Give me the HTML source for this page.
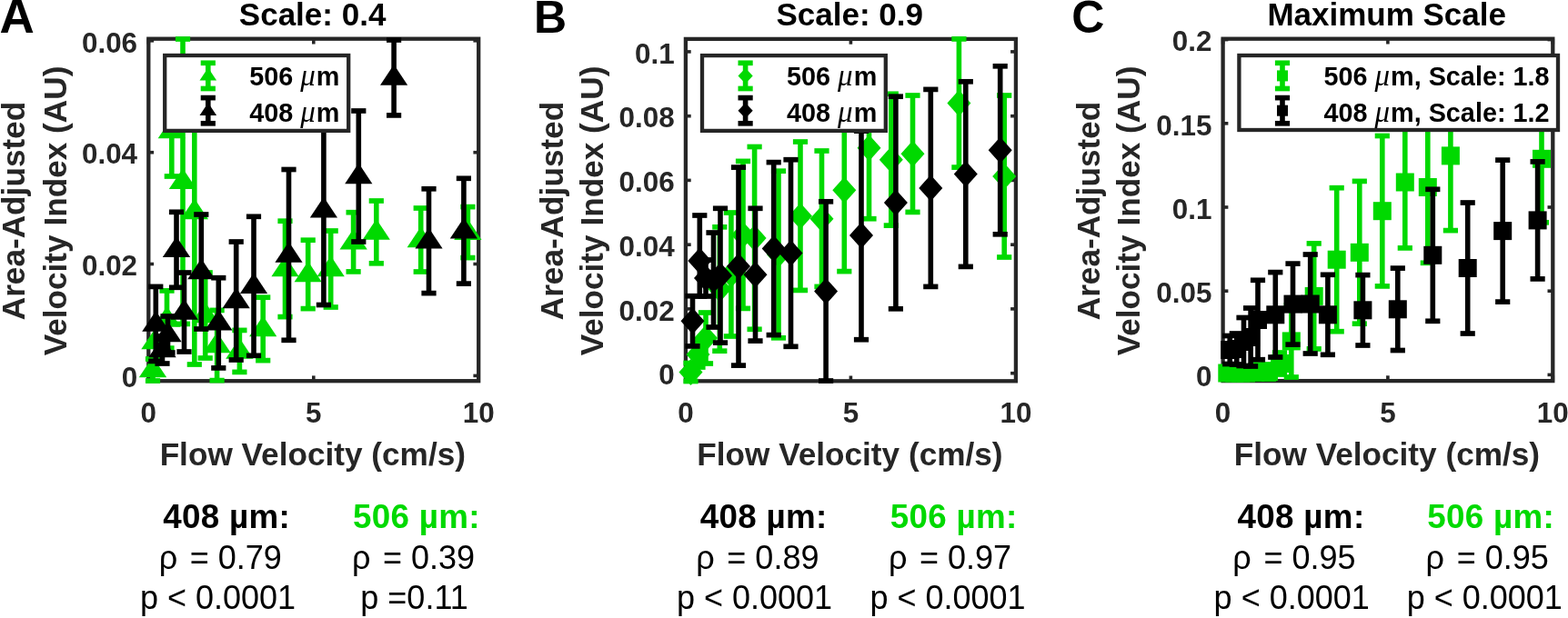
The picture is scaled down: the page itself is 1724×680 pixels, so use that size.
<!DOCTYPE html><html><head><meta charset="utf-8"><title>Figure</title><style>html,body{margin:0;padding:0;background:#fff;overflow:hidden;}svg{display:block;}</style></head><body>
<svg width="1724" height="680" viewBox="0 0 1724 680">
<rect width="1724" height="680" fill="#fff"/>
<rect x="163.3" y="42.7" width="362.9" height="376.5" fill="none" stroke="#262626" stroke-width="4.3" stroke-linejoin="miter"/><line x1="163.3" y1="419.2" x2="163.3" y2="413.4" stroke="#262626" stroke-width="3.6"/><line x1="163.3" y1="42.7" x2="163.3" y2="48.5" stroke="#262626" stroke-width="3.6"/><line x1="344.8" y1="419.2" x2="344.8" y2="413.4" stroke="#262626" stroke-width="3.6"/><line x1="344.8" y1="42.7" x2="344.8" y2="48.5" stroke="#262626" stroke-width="3.6"/><line x1="526.2" y1="419.2" x2="526.2" y2="413.4" stroke="#262626" stroke-width="3.6"/><line x1="526.2" y1="42.7" x2="526.2" y2="48.5" stroke="#262626" stroke-width="3.6"/><line x1="163.3" y1="413.4" x2="169.1" y2="413.4" stroke="#262626" stroke-width="3.6"/><line x1="526.2" y1="413.4" x2="520.4" y2="413.4" stroke="#262626" stroke-width="3.6"/><line x1="163.3" y1="290.5" x2="169.1" y2="290.5" stroke="#262626" stroke-width="3.6"/><line x1="526.2" y1="290.5" x2="520.4" y2="290.5" stroke="#262626" stroke-width="3.6"/><line x1="163.3" y1="167.7" x2="169.1" y2="167.7" stroke="#262626" stroke-width="3.6"/><line x1="526.2" y1="167.7" x2="520.4" y2="167.7" stroke="#262626" stroke-width="3.6"/><line x1="163.3" y1="44.8" x2="169.1" y2="44.8" stroke="#262626" stroke-width="3.6"/><line x1="526.2" y1="44.8" x2="520.4" y2="44.8" stroke="#262626" stroke-width="3.6"/>
<line x1="168.0" y1="395.0" x2="168.0" y2="419.0" stroke="#00d900" stroke-width="5.6"/><line x1="159.9" y1="395.0" x2="176.1" y2="395.0" stroke="#00d900" stroke-width="5.699999999999999"/><line x1="159.9" y1="419.0" x2="176.1" y2="419.0" stroke="#00d900" stroke-width="5.699999999999999"/><line x1="170.5" y1="376.0" x2="170.5" y2="376.0" stroke="#00d900" stroke-width="5.6"/><line x1="162.4" y1="376.0" x2="178.6" y2="376.0" stroke="#00d900" stroke-width="5.699999999999999"/><line x1="162.4" y1="376.0" x2="178.6" y2="376.0" stroke="#00d900" stroke-width="5.699999999999999"/><line x1="183.5" y1="319.9" x2="183.5" y2="383.1" stroke="#00d900" stroke-width="5.6"/><line x1="175.4" y1="319.9" x2="191.6" y2="319.9" stroke="#00d900" stroke-width="5.699999999999999"/><line x1="175.4" y1="383.1" x2="191.6" y2="383.1" stroke="#00d900" stroke-width="5.699999999999999"/><line x1="188.8" y1="94.0" x2="188.8" y2="194.0" stroke="#00d900" stroke-width="5.6"/><line x1="180.7" y1="94.0" x2="196.9" y2="94.0" stroke="#00d900" stroke-width="5.699999999999999"/><line x1="180.7" y1="194.0" x2="196.9" y2="194.0" stroke="#00d900" stroke-width="5.699999999999999"/><line x1="201.0" y1="43.0" x2="201.0" y2="356.4" stroke="#00d900" stroke-width="5.6"/><line x1="192.9" y1="43.0" x2="209.1" y2="43.0" stroke="#00d900" stroke-width="5.699999999999999"/><line x1="192.9" y1="356.4" x2="209.1" y2="356.4" stroke="#00d900" stroke-width="5.699999999999999"/><line x1="213.8" y1="65.0" x2="213.8" y2="401.0" stroke="#00d900" stroke-width="5.6"/><line x1="205.7" y1="65.0" x2="221.9" y2="65.0" stroke="#00d900" stroke-width="5.699999999999999"/><line x1="205.7" y1="401.0" x2="221.9" y2="401.0" stroke="#00d900" stroke-width="5.699999999999999"/><line x1="225.7" y1="300.0" x2="225.7" y2="394.0" stroke="#00d900" stroke-width="5.6"/><line x1="217.6" y1="300.0" x2="233.8" y2="300.0" stroke="#00d900" stroke-width="5.699999999999999"/><line x1="217.6" y1="394.0" x2="233.8" y2="394.0" stroke="#00d900" stroke-width="5.699999999999999"/><line x1="238.6" y1="341.4" x2="238.6" y2="418.6" stroke="#00d900" stroke-width="5.6"/><line x1="230.5" y1="341.4" x2="246.7" y2="341.4" stroke="#00d900" stroke-width="5.699999999999999"/><line x1="230.5" y1="418.6" x2="246.7" y2="418.6" stroke="#00d900" stroke-width="5.699999999999999"/><line x1="263.4" y1="363.4" x2="263.4" y2="409.4" stroke="#00d900" stroke-width="5.6"/><line x1="255.3" y1="363.4" x2="271.5" y2="363.4" stroke="#00d900" stroke-width="5.699999999999999"/><line x1="255.3" y1="409.4" x2="271.5" y2="409.4" stroke="#00d900" stroke-width="5.699999999999999"/><line x1="289.2" y1="327.2" x2="289.2" y2="396.6" stroke="#00d900" stroke-width="5.6"/><line x1="281.1" y1="327.2" x2="297.3" y2="327.2" stroke="#00d900" stroke-width="5.699999999999999"/><line x1="281.1" y1="396.6" x2="297.3" y2="396.6" stroke="#00d900" stroke-width="5.699999999999999"/><line x1="313.5" y1="243.2" x2="313.5" y2="348.6" stroke="#00d900" stroke-width="5.6"/><line x1="305.4" y1="243.2" x2="321.6" y2="243.2" stroke="#00d900" stroke-width="5.699999999999999"/><line x1="305.4" y1="348.6" x2="321.6" y2="348.6" stroke="#00d900" stroke-width="5.699999999999999"/><line x1="338.7" y1="264.2" x2="338.7" y2="339.6" stroke="#00d900" stroke-width="5.6"/><line x1="330.6" y1="264.2" x2="346.8" y2="264.2" stroke="#00d900" stroke-width="5.699999999999999"/><line x1="330.6" y1="339.6" x2="346.8" y2="339.6" stroke="#00d900" stroke-width="5.699999999999999"/><line x1="363.7" y1="254.0" x2="363.7" y2="338.0" stroke="#00d900" stroke-width="5.6"/><line x1="355.6" y1="254.0" x2="371.8" y2="254.0" stroke="#00d900" stroke-width="5.699999999999999"/><line x1="355.6" y1="338.0" x2="371.8" y2="338.0" stroke="#00d900" stroke-width="5.699999999999999"/><line x1="388.6" y1="233.7" x2="388.6" y2="298.9" stroke="#00d900" stroke-width="5.6"/><line x1="380.5" y1="233.7" x2="396.7" y2="233.7" stroke="#00d900" stroke-width="5.699999999999999"/><line x1="380.5" y1="298.9" x2="396.7" y2="298.9" stroke="#00d900" stroke-width="5.699999999999999"/><line x1="413.8" y1="221.0" x2="413.8" y2="289.8" stroke="#00d900" stroke-width="5.6"/><line x1="405.7" y1="221.0" x2="421.9" y2="221.0" stroke="#00d900" stroke-width="5.699999999999999"/><line x1="405.7" y1="289.8" x2="421.9" y2="289.8" stroke="#00d900" stroke-width="5.699999999999999"/><line x1="462.7" y1="229.0" x2="462.7" y2="299.0" stroke="#00d900" stroke-width="5.6"/><line x1="454.6" y1="229.0" x2="470.8" y2="229.0" stroke="#00d900" stroke-width="5.699999999999999"/><line x1="454.6" y1="299.0" x2="470.8" y2="299.0" stroke="#00d900" stroke-width="5.699999999999999"/><line x1="514.4" y1="227.6" x2="514.4" y2="283.6" stroke="#00d900" stroke-width="5.6"/><line x1="506.3" y1="227.6" x2="522.5" y2="227.6" stroke="#00d900" stroke-width="5.699999999999999"/><line x1="506.3" y1="283.6" x2="522.5" y2="283.6" stroke="#00d900" stroke-width="5.699999999999999"/><polygon points="168.0,392.5 183.2,415.3 152.8,415.3" fill="#00d900"/><polygon points="170.5,361.5 185.7,384.3 155.3,384.3" fill="#00d900"/><polygon points="183.5,337.0 198.7,359.8 168.3,359.8" fill="#00d900"/><polygon points="188.8,129.5 204.0,152.3 173.7,152.3" fill="#00d900"/><polygon points="201.0,185.2 216.2,208.0 185.8,208.0" fill="#00d900"/><polygon points="213.8,218.5 229.0,241.3 198.7,241.3" fill="#00d900"/><polygon points="225.7,332.5 240.8,355.3 210.5,355.3" fill="#00d900"/><polygon points="238.6,365.5 253.8,388.3 223.4,388.3" fill="#00d900"/><polygon points="263.4,371.9 278.5,394.7 248.2,394.7" fill="#00d900"/><polygon points="289.2,347.4 304.3,370.2 274.1,370.2" fill="#00d900"/><polygon points="313.5,281.4 328.6,304.2 298.4,304.2" fill="#00d900"/><polygon points="338.7,287.4 353.8,310.2 323.6,310.2" fill="#00d900"/><polygon points="363.7,281.5 378.8,304.3 348.6,304.3" fill="#00d900"/><polygon points="388.6,251.8 403.8,274.6 373.5,274.6" fill="#00d900"/><polygon points="413.8,240.9 428.9,263.7 398.7,263.7" fill="#00d900"/><polygon points="462.7,249.5 477.8,272.3 447.6,272.3" fill="#00d900"/><polygon points="514.4,241.1 529.5,263.9 499.2,263.9" fill="#00d900"/>
<line x1="171.3" y1="315.4" x2="171.3" y2="397.4" stroke="#000000" stroke-width="5.6"/><line x1="163.2" y1="315.4" x2="179.4" y2="315.4" stroke="#000000" stroke-width="5.699999999999999"/><line x1="163.2" y1="397.4" x2="179.4" y2="397.4" stroke="#000000" stroke-width="5.699999999999999"/><line x1="178.5" y1="370.0" x2="178.5" y2="400.0" stroke="#000000" stroke-width="5.6"/><line x1="170.4" y1="370.0" x2="186.6" y2="370.0" stroke="#000000" stroke-width="5.699999999999999"/><line x1="170.4" y1="400.0" x2="186.6" y2="400.0" stroke="#000000" stroke-width="5.699999999999999"/><line x1="184.5" y1="348.0" x2="184.5" y2="388.0" stroke="#000000" stroke-width="5.6"/><line x1="176.4" y1="348.0" x2="192.6" y2="348.0" stroke="#000000" stroke-width="5.699999999999999"/><line x1="176.4" y1="388.0" x2="192.6" y2="388.0" stroke="#000000" stroke-width="5.699999999999999"/><line x1="194.0" y1="233.3" x2="194.0" y2="316.3" stroke="#000000" stroke-width="5.6"/><line x1="185.9" y1="233.3" x2="202.1" y2="233.3" stroke="#000000" stroke-width="5.699999999999999"/><line x1="185.9" y1="316.3" x2="202.1" y2="316.3" stroke="#000000" stroke-width="5.699999999999999"/><line x1="202.5" y1="300.0" x2="202.5" y2="387.0" stroke="#000000" stroke-width="5.6"/><line x1="194.4" y1="300.0" x2="210.6" y2="300.0" stroke="#000000" stroke-width="5.699999999999999"/><line x1="194.4" y1="387.0" x2="210.6" y2="387.0" stroke="#000000" stroke-width="5.699999999999999"/><line x1="221.3" y1="236.0" x2="221.3" y2="362.0" stroke="#000000" stroke-width="5.6"/><line x1="213.2" y1="236.0" x2="229.4" y2="236.0" stroke="#000000" stroke-width="5.699999999999999"/><line x1="213.2" y1="362.0" x2="229.4" y2="362.0" stroke="#000000" stroke-width="5.699999999999999"/><line x1="240.3" y1="305.7" x2="240.3" y2="404.9" stroke="#000000" stroke-width="5.6"/><line x1="232.2" y1="305.7" x2="248.4" y2="305.7" stroke="#000000" stroke-width="5.699999999999999"/><line x1="232.2" y1="404.9" x2="248.4" y2="404.9" stroke="#000000" stroke-width="5.699999999999999"/><line x1="259.7" y1="266.0" x2="259.7" y2="396.0" stroke="#000000" stroke-width="5.6"/><line x1="251.6" y1="266.0" x2="267.8" y2="266.0" stroke="#000000" stroke-width="5.699999999999999"/><line x1="251.6" y1="396.0" x2="267.8" y2="396.0" stroke="#000000" stroke-width="5.699999999999999"/><line x1="279.0" y1="238.3" x2="279.0" y2="391.3" stroke="#000000" stroke-width="5.6"/><line x1="270.9" y1="238.3" x2="287.1" y2="238.3" stroke="#000000" stroke-width="5.699999999999999"/><line x1="270.9" y1="391.3" x2="287.1" y2="391.3" stroke="#000000" stroke-width="5.699999999999999"/><line x1="317.5" y1="186.5" x2="317.5" y2="374.3" stroke="#000000" stroke-width="5.6"/><line x1="309.4" y1="186.5" x2="325.6" y2="186.5" stroke="#000000" stroke-width="5.699999999999999"/><line x1="309.4" y1="374.3" x2="325.6" y2="374.3" stroke="#000000" stroke-width="5.699999999999999"/><line x1="355.9" y1="127.1" x2="355.9" y2="335.5" stroke="#000000" stroke-width="5.6"/><line x1="347.8" y1="127.1" x2="364.0" y2="127.1" stroke="#000000" stroke-width="5.699999999999999"/><line x1="347.8" y1="335.5" x2="364.0" y2="335.5" stroke="#000000" stroke-width="5.699999999999999"/><line x1="394.3" y1="122.0" x2="394.3" y2="266.0" stroke="#000000" stroke-width="5.6"/><line x1="386.2" y1="122.0" x2="402.4" y2="122.0" stroke="#000000" stroke-width="5.699999999999999"/><line x1="386.2" y1="266.0" x2="402.4" y2="266.0" stroke="#000000" stroke-width="5.699999999999999"/><line x1="433.1" y1="44.0" x2="433.1" y2="126.9" stroke="#000000" stroke-width="5.6"/><line x1="425.0" y1="44.0" x2="441.2" y2="44.0" stroke="#000000" stroke-width="5.699999999999999"/><line x1="425.0" y1="126.9" x2="441.2" y2="126.9" stroke="#000000" stroke-width="5.699999999999999"/><line x1="471.5" y1="207.8" x2="471.5" y2="322.6" stroke="#000000" stroke-width="5.6"/><line x1="463.4" y1="207.8" x2="479.6" y2="207.8" stroke="#000000" stroke-width="5.699999999999999"/><line x1="463.4" y1="322.6" x2="479.6" y2="322.6" stroke="#000000" stroke-width="5.699999999999999"/><line x1="509.9" y1="196.3" x2="509.9" y2="312.1" stroke="#000000" stroke-width="5.6"/><line x1="501.8" y1="196.3" x2="518.0" y2="196.3" stroke="#000000" stroke-width="5.699999999999999"/><line x1="501.8" y1="312.1" x2="518.0" y2="312.1" stroke="#000000" stroke-width="5.699999999999999"/><polygon points="171.3,341.9 186.5,364.7 156.2,364.7" fill="#000000"/><polygon points="178.5,370.5 193.7,393.3 163.3,393.3" fill="#000000"/><polygon points="184.5,353.5 199.7,376.3 169.3,376.3" fill="#000000"/><polygon points="194.0,260.3 209.2,283.1 178.8,283.1" fill="#000000"/><polygon points="202.5,329.0 217.7,351.8 187.3,351.8" fill="#000000"/><polygon points="221.3,284.5 236.5,307.3 206.2,307.3" fill="#000000"/><polygon points="240.3,340.8 255.5,363.6 225.2,363.6" fill="#000000"/><polygon points="259.7,316.5 274.8,339.3 244.5,339.3" fill="#000000"/><polygon points="279.0,300.3 294.1,323.1 263.9,323.1" fill="#000000"/><polygon points="317.5,265.9 332.6,288.7 302.4,288.7" fill="#000000"/><polygon points="355.9,216.8 371.0,239.6 340.8,239.6" fill="#000000"/><polygon points="394.3,179.5 409.4,202.3 379.2,202.3" fill="#000000"/><polygon points="433.1,71.0 448.2,93.8 418.0,93.8" fill="#000000"/><polygon points="471.5,250.7 486.6,273.5 456.4,273.5" fill="#000000"/><polygon points="509.9,239.7 525.0,262.5 494.8,262.5" fill="#000000"/>
<g font-family="'Liberation Sans', Arial, Helvetica, sans-serif" font-weight="bold" font-size="31.4" fill="#262626"><text x="163.3" y="465" text-anchor="middle">0</text><text x="344.8" y="465" text-anchor="middle">5</text><text x="526.2" y="465" text-anchor="middle">10</text><text x="151.1" y="426.1" text-anchor="end">0</text><text x="151.1" y="303.2" text-anchor="end">0.02</text><text x="151.1" y="180.4" text-anchor="end">0.04</text><text x="151.1" y="57.5" text-anchor="end">0.06</text></g>
<text x="343.8" y="512.2" text-anchor="middle" font-family="'Liberation Sans', Arial, Helvetica, sans-serif" font-weight="bold" font-size="35.2" fill="#262626">Flow Velocity (cm/s)</text>
<g font-family="'Liberation Sans', Arial, Helvetica, sans-serif" font-weight="bold" font-size="35.2" fill="#262626" text-anchor="middle"><text transform="translate(27.1,232.0) rotate(-90)">Area-Adjusted</text><text transform="translate(72.7,232.0) rotate(-90)">Velocity Index (AU)</text></g>
<text x="343.6" y="28.4" text-anchor="middle" font-family="'Liberation Sans', Arial, Helvetica, sans-serif" font-weight="bold" font-size="35" fill="#000">Scale: 0.4</text>
<text x="-0.4" y="35.7" font-family="'Liberation Sans', Arial, Helvetica, sans-serif" font-weight="bold" font-size="53" fill="#000">A</text>
<rect x="181.2" y="61.0" width="202.0" height="82.9" fill="#fff" stroke="#262626" stroke-width="4.3"/><line x1="228.8" y1="69.3" x2="228.8" y2="97.5" stroke="#00d900" stroke-width="5.6"/><line x1="220.7" y1="69.3" x2="236.9" y2="69.3" stroke="#00d900" stroke-width="5.699999999999999"/><line x1="220.7" y1="97.5" x2="236.9" y2="97.5" stroke="#00d900" stroke-width="5.699999999999999"/><polygon points="228.8,74.6 238.1,88.6 219.5,88.6" fill="#00d900"/><text x="274.2" y="94.4" font-family="'Liberation Sans', Arial, Helvetica, sans-serif" font-weight="bold" font-size="28.8" fill="#000">506 <tspan font-family="'Liberation Serif', 'Times New Roman', serif" font-style="italic" font-weight="normal" font-size="33">μ</tspan><tspan dx="1">m</tspan></text><line x1="228.8" y1="107.6" x2="228.8" y2="135.8" stroke="#000000" stroke-width="5.6"/><line x1="220.7" y1="107.6" x2="236.9" y2="107.6" stroke="#000000" stroke-width="5.699999999999999"/><line x1="220.7" y1="135.8" x2="236.9" y2="135.8" stroke="#000000" stroke-width="5.699999999999999"/><polygon points="228.8,112.9 238.1,126.9 219.5,126.9" fill="#000000"/><text x="274.2" y="134.1" font-family="'Liberation Sans', Arial, Helvetica, sans-serif" font-weight="bold" font-size="28.8" fill="#000">408 <tspan font-family="'Liberation Serif', 'Times New Roman', serif" font-style="italic" font-weight="normal" font-size="33">μ</tspan><tspan dx="1">m</tspan></text>
<rect x="753.9" y="42.9" width="363.0" height="376.4" fill="none" stroke="#262626" stroke-width="4.3" stroke-linejoin="miter"/><line x1="753.9" y1="419.3" x2="753.9" y2="413.5" stroke="#262626" stroke-width="3.6"/><line x1="753.9" y1="42.9" x2="753.9" y2="48.7" stroke="#262626" stroke-width="3.6"/><line x1="935.4" y1="419.3" x2="935.4" y2="413.5" stroke="#262626" stroke-width="3.6"/><line x1="935.4" y1="42.9" x2="935.4" y2="48.7" stroke="#262626" stroke-width="3.6"/><line x1="1116.9" y1="419.3" x2="1116.9" y2="413.5" stroke="#262626" stroke-width="3.6"/><line x1="1116.9" y1="42.9" x2="1116.9" y2="48.7" stroke="#262626" stroke-width="3.6"/><line x1="753.9" y1="410.7" x2="759.7" y2="410.7" stroke="#262626" stroke-width="3.6"/><line x1="1116.9" y1="410.7" x2="1111.1" y2="410.7" stroke="#262626" stroke-width="3.6"/><line x1="753.9" y1="339.9" x2="759.7" y2="339.9" stroke="#262626" stroke-width="3.6"/><line x1="1116.9" y1="339.9" x2="1111.1" y2="339.9" stroke="#262626" stroke-width="3.6"/><line x1="753.9" y1="269.2" x2="759.7" y2="269.2" stroke="#262626" stroke-width="3.6"/><line x1="1116.9" y1="269.2" x2="1111.1" y2="269.2" stroke="#262626" stroke-width="3.6"/><line x1="753.9" y1="198.4" x2="759.7" y2="198.4" stroke="#262626" stroke-width="3.6"/><line x1="1116.9" y1="198.4" x2="1111.1" y2="198.4" stroke="#262626" stroke-width="3.6"/><line x1="753.9" y1="127.7" x2="759.7" y2="127.7" stroke="#262626" stroke-width="3.6"/><line x1="1116.9" y1="127.7" x2="1111.1" y2="127.7" stroke="#262626" stroke-width="3.6"/><line x1="753.9" y1="56.9" x2="759.7" y2="56.9" stroke="#262626" stroke-width="3.6"/><line x1="1116.9" y1="56.9" x2="1111.1" y2="56.9" stroke="#262626" stroke-width="3.6"/>
<line x1="759.5" y1="399.5" x2="759.5" y2="419.5" stroke="#00d900" stroke-width="5.6"/><line x1="751.4" y1="399.5" x2="767.6" y2="399.5" stroke="#00d900" stroke-width="5.699999999999999"/><line x1="751.4" y1="419.5" x2="767.6" y2="419.5" stroke="#00d900" stroke-width="5.699999999999999"/><line x1="767.5" y1="376.0" x2="767.5" y2="404.0" stroke="#00d900" stroke-width="5.6"/><line x1="759.4" y1="376.0" x2="775.6" y2="376.0" stroke="#00d900" stroke-width="5.699999999999999"/><line x1="759.4" y1="404.0" x2="775.6" y2="404.0" stroke="#00d900" stroke-width="5.699999999999999"/><line x1="776.0" y1="344.0" x2="776.0" y2="400.0" stroke="#00d900" stroke-width="5.6"/><line x1="767.9" y1="344.0" x2="784.1" y2="344.0" stroke="#00d900" stroke-width="5.699999999999999"/><line x1="767.9" y1="400.0" x2="784.1" y2="400.0" stroke="#00d900" stroke-width="5.699999999999999"/><line x1="791.3" y1="249.8" x2="791.3" y2="386.2" stroke="#00d900" stroke-width="5.6"/><line x1="783.2" y1="249.8" x2="799.4" y2="249.8" stroke="#00d900" stroke-width="5.699999999999999"/><line x1="783.2" y1="386.2" x2="799.4" y2="386.2" stroke="#00d900" stroke-width="5.699999999999999"/><line x1="803.9" y1="234.0" x2="803.9" y2="370.0" stroke="#00d900" stroke-width="5.6"/><line x1="795.8" y1="234.0" x2="812.0" y2="234.0" stroke="#00d900" stroke-width="5.699999999999999"/><line x1="795.8" y1="370.0" x2="812.0" y2="370.0" stroke="#00d900" stroke-width="5.699999999999999"/><line x1="817.0" y1="177.4" x2="817.0" y2="339.4" stroke="#00d900" stroke-width="5.6"/><line x1="808.9" y1="177.4" x2="825.1" y2="177.4" stroke="#00d900" stroke-width="5.699999999999999"/><line x1="808.9" y1="339.4" x2="825.1" y2="339.4" stroke="#00d900" stroke-width="5.699999999999999"/><line x1="829.6" y1="161.5" x2="829.6" y2="362.3" stroke="#00d900" stroke-width="5.6"/><line x1="821.5" y1="161.5" x2="837.7" y2="161.5" stroke="#00d900" stroke-width="5.699999999999999"/><line x1="821.5" y1="362.3" x2="837.7" y2="362.3" stroke="#00d900" stroke-width="5.699999999999999"/><line x1="856.0" y1="188.2" x2="856.0" y2="371.8" stroke="#00d900" stroke-width="5.6"/><line x1="847.9" y1="188.2" x2="864.1" y2="188.2" stroke="#00d900" stroke-width="5.699999999999999"/><line x1="847.9" y1="371.8" x2="864.1" y2="371.8" stroke="#00d900" stroke-width="5.699999999999999"/><line x1="880.0" y1="156.0" x2="880.0" y2="319.4" stroke="#00d900" stroke-width="5.6"/><line x1="871.9" y1="156.0" x2="888.1" y2="156.0" stroke="#00d900" stroke-width="5.699999999999999"/><line x1="871.9" y1="319.4" x2="888.1" y2="319.4" stroke="#00d900" stroke-width="5.699999999999999"/><line x1="903.5" y1="166.0" x2="903.5" y2="315.4" stroke="#00d900" stroke-width="5.6"/><line x1="895.4" y1="166.0" x2="911.6" y2="166.0" stroke="#00d900" stroke-width="5.699999999999999"/><line x1="895.4" y1="315.4" x2="911.6" y2="315.4" stroke="#00d900" stroke-width="5.699999999999999"/><line x1="928.3" y1="119.8" x2="928.3" y2="298.6" stroke="#00d900" stroke-width="5.6"/><line x1="920.2" y1="119.8" x2="936.4" y2="119.8" stroke="#00d900" stroke-width="5.699999999999999"/><line x1="920.2" y1="298.6" x2="936.4" y2="298.6" stroke="#00d900" stroke-width="5.699999999999999"/><line x1="955.5" y1="84.7" x2="955.5" y2="240.7" stroke="#00d900" stroke-width="5.6"/><line x1="947.4" y1="84.7" x2="963.6" y2="84.7" stroke="#00d900" stroke-width="5.699999999999999"/><line x1="947.4" y1="240.7" x2="963.6" y2="240.7" stroke="#00d900" stroke-width="5.699999999999999"/><line x1="979.8" y1="103.3" x2="979.8" y2="248.1" stroke="#00d900" stroke-width="5.6"/><line x1="971.7" y1="103.3" x2="987.9" y2="103.3" stroke="#00d900" stroke-width="5.699999999999999"/><line x1="971.7" y1="248.1" x2="987.9" y2="248.1" stroke="#00d900" stroke-width="5.699999999999999"/><line x1="1003.5" y1="105.0" x2="1003.5" y2="233.4" stroke="#00d900" stroke-width="5.6"/><line x1="995.4" y1="105.0" x2="1011.6" y2="105.0" stroke="#00d900" stroke-width="5.699999999999999"/><line x1="995.4" y1="233.4" x2="1011.6" y2="233.4" stroke="#00d900" stroke-width="5.699999999999999"/><line x1="1054.4" y1="42.9" x2="1054.4" y2="184.1" stroke="#00d900" stroke-width="5.6"/><line x1="1046.3" y1="42.9" x2="1062.5" y2="42.9" stroke="#00d900" stroke-width="5.699999999999999"/><line x1="1046.3" y1="184.1" x2="1062.5" y2="184.1" stroke="#00d900" stroke-width="5.699999999999999"/><line x1="1104.2" y1="105.0" x2="1104.2" y2="283.0" stroke="#00d900" stroke-width="5.6"/><line x1="1096.1" y1="105.0" x2="1112.3" y2="105.0" stroke="#00d900" stroke-width="5.699999999999999"/><line x1="1096.1" y1="283.0" x2="1112.3" y2="283.0" stroke="#00d900" stroke-width="5.699999999999999"/><polygon points="759.5,395.0 772.5,409.5 759.5,424.0 746.5,409.5" fill="#00d900"/><polygon points="767.5,375.5 780.5,390.0 767.5,404.5 754.5,390.0" fill="#00d900"/><polygon points="776.0,357.5 789.0,372.0 776.0,386.5 763.0,372.0" fill="#00d900"/><polygon points="791.3,303.5 804.3,318.0 791.3,332.5 778.3,318.0" fill="#00d900"/><polygon points="803.9,287.5 816.9,302.0 803.9,316.5 790.9,302.0" fill="#00d900"/><polygon points="817.0,243.9 830.0,258.4 817.0,272.9 804.0,258.4" fill="#00d900"/><polygon points="829.6,247.4 842.6,261.9 829.6,276.4 816.6,261.9" fill="#00d900"/><polygon points="856.0,265.5 869.0,280.0 856.0,294.5 843.0,280.0" fill="#00d900"/><polygon points="880.0,223.2 893.0,237.7 880.0,252.2 867.0,237.7" fill="#00d900"/><polygon points="903.5,226.2 916.5,240.7 903.5,255.2 890.5,240.7" fill="#00d900"/><polygon points="928.3,194.7 941.3,209.2 928.3,223.7 915.3,209.2" fill="#00d900"/><polygon points="955.5,148.2 968.5,162.7 955.5,177.2 942.5,162.7" fill="#00d900"/><polygon points="979.8,161.2 992.8,175.7 979.8,190.2 966.8,175.7" fill="#00d900"/><polygon points="1003.5,154.7 1016.5,169.2 1003.5,183.7 990.5,169.2" fill="#00d900"/><polygon points="1054.4,99.0 1067.4,113.5 1054.4,128.0 1041.4,113.5" fill="#00d900"/><polygon points="1104.2,179.5 1117.2,194.0 1104.2,208.5 1091.2,194.0" fill="#00d900"/>
<line x1="761.5" y1="325.7" x2="761.5" y2="380.9" stroke="#000000" stroke-width="5.6"/><line x1="753.4" y1="325.7" x2="769.6" y2="325.7" stroke="#000000" stroke-width="5.699999999999999"/><line x1="753.4" y1="380.9" x2="769.6" y2="380.9" stroke="#000000" stroke-width="5.699999999999999"/><line x1="769.3" y1="237.0" x2="769.3" y2="326.0" stroke="#000000" stroke-width="5.6"/><line x1="761.2" y1="237.0" x2="777.4" y2="237.0" stroke="#000000" stroke-width="5.699999999999999"/><line x1="761.2" y1="326.0" x2="777.4" y2="326.0" stroke="#000000" stroke-width="5.699999999999999"/><line x1="776.0" y1="286.0" x2="776.0" y2="326.0" stroke="#000000" stroke-width="5.6"/><line x1="767.9" y1="286.0" x2="784.1" y2="286.0" stroke="#000000" stroke-width="5.699999999999999"/><line x1="767.9" y1="326.0" x2="784.1" y2="326.0" stroke="#000000" stroke-width="5.699999999999999"/><line x1="784.5" y1="256.0" x2="784.5" y2="360.0" stroke="#000000" stroke-width="5.6"/><line x1="776.4" y1="256.0" x2="792.6" y2="256.0" stroke="#000000" stroke-width="5.699999999999999"/><line x1="776.4" y1="360.0" x2="792.6" y2="360.0" stroke="#000000" stroke-width="5.699999999999999"/><line x1="792.0" y1="229.3" x2="792.0" y2="377.1" stroke="#000000" stroke-width="5.6"/><line x1="783.9" y1="229.3" x2="800.1" y2="229.3" stroke="#000000" stroke-width="5.699999999999999"/><line x1="783.9" y1="377.1" x2="800.1" y2="377.1" stroke="#000000" stroke-width="5.699999999999999"/><line x1="812.0" y1="184.1" x2="812.0" y2="402.1" stroke="#000000" stroke-width="5.6"/><line x1="803.9" y1="184.1" x2="820.1" y2="184.1" stroke="#000000" stroke-width="5.699999999999999"/><line x1="803.9" y1="402.1" x2="820.1" y2="402.1" stroke="#000000" stroke-width="5.699999999999999"/><line x1="830.5" y1="229.3" x2="830.5" y2="375.1" stroke="#000000" stroke-width="5.6"/><line x1="822.4" y1="229.3" x2="838.6" y2="229.3" stroke="#000000" stroke-width="5.699999999999999"/><line x1="822.4" y1="375.1" x2="838.6" y2="375.1" stroke="#000000" stroke-width="5.699999999999999"/><line x1="850.7" y1="178.6" x2="850.7" y2="368.6" stroke="#000000" stroke-width="5.6"/><line x1="842.6" y1="178.6" x2="858.8" y2="178.6" stroke="#000000" stroke-width="5.699999999999999"/><line x1="842.6" y1="368.6" x2="858.8" y2="368.6" stroke="#000000" stroke-width="5.699999999999999"/><line x1="869.5" y1="175.7" x2="869.5" y2="381.3" stroke="#000000" stroke-width="5.6"/><line x1="861.4" y1="175.7" x2="877.6" y2="175.7" stroke="#000000" stroke-width="5.699999999999999"/><line x1="861.4" y1="381.3" x2="877.6" y2="381.3" stroke="#000000" stroke-width="5.699999999999999"/><line x1="908.1" y1="221.8" x2="908.1" y2="419.0" stroke="#000000" stroke-width="5.6"/><line x1="900.0" y1="221.8" x2="916.2" y2="221.8" stroke="#000000" stroke-width="5.699999999999999"/><line x1="900.0" y1="419.0" x2="916.2" y2="419.0" stroke="#000000" stroke-width="5.699999999999999"/><line x1="947.0" y1="144.1" x2="947.0" y2="373.7" stroke="#000000" stroke-width="5.6"/><line x1="938.9" y1="144.1" x2="955.1" y2="144.1" stroke="#000000" stroke-width="5.699999999999999"/><line x1="938.9" y1="373.7" x2="955.1" y2="373.7" stroke="#000000" stroke-width="5.699999999999999"/><line x1="984.9" y1="106.2" x2="984.9" y2="339.8" stroke="#000000" stroke-width="5.6"/><line x1="976.8" y1="106.2" x2="993.0" y2="106.2" stroke="#000000" stroke-width="5.699999999999999"/><line x1="976.8" y1="339.8" x2="993.0" y2="339.8" stroke="#000000" stroke-width="5.699999999999999"/><line x1="1023.3" y1="98.4" x2="1023.3" y2="315.4" stroke="#000000" stroke-width="5.6"/><line x1="1015.2" y1="98.4" x2="1031.4" y2="98.4" stroke="#000000" stroke-width="5.699999999999999"/><line x1="1015.2" y1="315.4" x2="1031.4" y2="315.4" stroke="#000000" stroke-width="5.699999999999999"/><line x1="1061.8" y1="89.8" x2="1061.8" y2="293.4" stroke="#000000" stroke-width="5.6"/><line x1="1053.7" y1="89.8" x2="1069.9" y2="89.8" stroke="#000000" stroke-width="5.699999999999999"/><line x1="1053.7" y1="293.4" x2="1069.9" y2="293.4" stroke="#000000" stroke-width="5.699999999999999"/><line x1="1099.7" y1="72.8" x2="1099.7" y2="257.8" stroke="#000000" stroke-width="5.6"/><line x1="1091.6" y1="72.8" x2="1107.8" y2="72.8" stroke="#000000" stroke-width="5.699999999999999"/><line x1="1091.6" y1="257.8" x2="1107.8" y2="257.8" stroke="#000000" stroke-width="5.699999999999999"/><polygon points="761.5,338.8 774.5,353.3 761.5,367.8 748.5,353.3" fill="#000000"/><polygon points="769.3,272.5 782.3,287.0 769.3,301.5 756.3,287.0" fill="#000000"/><polygon points="776.0,291.5 789.0,306.0 776.0,320.5 763.0,306.0" fill="#000000"/><polygon points="784.5,293.5 797.5,308.0 784.5,322.5 771.5,308.0" fill="#000000"/><polygon points="792.0,288.7 805.0,303.2 792.0,317.7 779.0,303.2" fill="#000000"/><polygon points="812.0,278.6 825.0,293.1 812.0,307.6 799.0,293.1" fill="#000000"/><polygon points="830.5,287.7 843.5,302.2 830.5,316.7 817.5,302.2" fill="#000000"/><polygon points="850.7,259.1 863.7,273.6 850.7,288.1 837.7,273.6" fill="#000000"/><polygon points="869.5,264.0 882.5,278.5 869.5,293.0 856.5,278.5" fill="#000000"/><polygon points="908.1,305.9 921.1,320.4 908.1,334.9 895.1,320.4" fill="#000000"/><polygon points="947.0,244.4 960.0,258.9 947.0,273.4 934.0,258.9" fill="#000000"/><polygon points="984.9,208.5 997.9,223.0 984.9,237.5 971.9,223.0" fill="#000000"/><polygon points="1023.3,192.4 1036.3,206.9 1023.3,221.4 1010.3,206.9" fill="#000000"/><polygon points="1061.8,177.1 1074.8,191.6 1061.8,206.1 1048.8,191.6" fill="#000000"/><polygon points="1099.7,150.8 1112.7,165.3 1099.7,179.8 1086.7,165.3" fill="#000000"/>
<g font-family="'Liberation Sans', Arial, Helvetica, sans-serif" font-weight="bold" font-size="31.4" fill="#262626"><text x="753.9" y="465" text-anchor="middle">0</text><text x="935.4" y="465" text-anchor="middle">5</text><text x="1116.9" y="465" text-anchor="middle">10</text><text x="741.7" y="423.4" text-anchor="end">0</text><text x="741.7" y="352.6" text-anchor="end">0.02</text><text x="741.7" y="281.9" text-anchor="end">0.04</text><text x="741.7" y="211.1" text-anchor="end">0.06</text><text x="741.7" y="140.4" text-anchor="end">0.08</text><text x="741.7" y="69.6" text-anchor="end">0.1</text></g>
<text x="934.4" y="512.2" text-anchor="middle" font-family="'Liberation Sans', Arial, Helvetica, sans-serif" font-weight="bold" font-size="35.2" fill="#262626">Flow Velocity (cm/s)</text>
<g font-family="'Liberation Sans', Arial, Helvetica, sans-serif" font-weight="bold" font-size="35.2" fill="#262626" text-anchor="middle"><text transform="translate(618.7,232.0) rotate(-90)">Area-Adjusted</text><text transform="translate(663.1,232.0) rotate(-90)">Velocity Index (AU)</text></g>
<text x="934.2" y="28.4" text-anchor="middle" font-family="'Liberation Sans', Arial, Helvetica, sans-serif" font-weight="bold" font-size="35" fill="#000">Scale: 0.9</text>
<text x="587" y="35.7" font-family="'Liberation Sans', Arial, Helvetica, sans-serif" font-weight="bold" font-size="50" fill="#000">B</text>
<rect x="772.0" y="61.1" width="201.8" height="82.8" fill="#fff" stroke="#262626" stroke-width="4.3"/><line x1="819.6" y1="69.3" x2="819.6" y2="97.5" stroke="#00d900" stroke-width="5.6"/><line x1="811.5" y1="69.3" x2="827.7" y2="69.3" stroke="#00d900" stroke-width="5.699999999999999"/><line x1="811.5" y1="97.5" x2="827.7" y2="97.5" stroke="#00d900" stroke-width="5.699999999999999"/><polygon points="819.6,74.9 827.7,83.4 819.6,91.9 811.5,83.4" fill="#00d900"/><text x="865.0" y="94.4" font-family="'Liberation Sans', Arial, Helvetica, sans-serif" font-weight="bold" font-size="28.8" fill="#000">506 <tspan font-family="'Liberation Serif', 'Times New Roman', serif" font-style="italic" font-weight="normal" font-size="33">μ</tspan><tspan dx="1">m</tspan></text><line x1="819.6" y1="107.6" x2="819.6" y2="135.8" stroke="#000000" stroke-width="5.6"/><line x1="811.5" y1="107.6" x2="827.7" y2="107.6" stroke="#000000" stroke-width="5.699999999999999"/><line x1="811.5" y1="135.8" x2="827.7" y2="135.8" stroke="#000000" stroke-width="5.699999999999999"/><polygon points="819.6,113.2 827.7,121.7 819.6,130.2 811.5,121.7" fill="#000000"/><text x="865.0" y="134.1" font-family="'Liberation Sans', Arial, Helvetica, sans-serif" font-weight="bold" font-size="28.8" fill="#000">408 <tspan font-family="'Liberation Serif', 'Times New Roman', serif" font-style="italic" font-weight="normal" font-size="33">μ</tspan><tspan dx="1">m</tspan></text>
<rect x="1344.6" y="42.7" width="362.7" height="376.4" fill="none" stroke="#262626" stroke-width="4.3" stroke-linejoin="miter"/><line x1="1344.6" y1="419.1" x2="1344.6" y2="413.3" stroke="#262626" stroke-width="3.6"/><line x1="1344.6" y1="42.7" x2="1344.6" y2="48.5" stroke="#262626" stroke-width="3.6"/><line x1="1525.9" y1="419.1" x2="1525.9" y2="413.3" stroke="#262626" stroke-width="3.6"/><line x1="1525.9" y1="42.7" x2="1525.9" y2="48.5" stroke="#262626" stroke-width="3.6"/><line x1="1707.3" y1="419.1" x2="1707.3" y2="413.3" stroke="#262626" stroke-width="3.6"/><line x1="1707.3" y1="42.7" x2="1707.3" y2="48.5" stroke="#262626" stroke-width="3.6"/><line x1="1344.6" y1="412.4" x2="1350.4" y2="412.4" stroke="#262626" stroke-width="3.6"/><line x1="1707.3" y1="412.4" x2="1701.5" y2="412.4" stroke="#262626" stroke-width="3.6"/><line x1="1344.6" y1="320.2" x2="1350.4" y2="320.2" stroke="#262626" stroke-width="3.6"/><line x1="1707.3" y1="320.2" x2="1701.5" y2="320.2" stroke="#262626" stroke-width="3.6"/><line x1="1344.6" y1="228.0" x2="1350.4" y2="228.0" stroke="#262626" stroke-width="3.6"/><line x1="1707.3" y1="228.0" x2="1701.5" y2="228.0" stroke="#262626" stroke-width="3.6"/><line x1="1344.6" y1="135.8" x2="1350.4" y2="135.8" stroke="#262626" stroke-width="3.6"/><line x1="1707.3" y1="135.8" x2="1701.5" y2="135.8" stroke="#262626" stroke-width="3.6"/><line x1="1344.6" y1="43.6" x2="1350.4" y2="43.6" stroke="#262626" stroke-width="3.6"/><line x1="1707.3" y1="43.6" x2="1701.5" y2="43.6" stroke="#262626" stroke-width="3.6"/>
<line x1="1349.3" y1="404.5" x2="1349.3" y2="416.5" stroke="#00d900" stroke-width="5.6"/><line x1="1341.2" y1="404.5" x2="1357.4" y2="404.5" stroke="#00d900" stroke-width="5.699999999999999"/><line x1="1341.2" y1="416.5" x2="1357.4" y2="416.5" stroke="#00d900" stroke-width="5.699999999999999"/><line x1="1357.3" y1="404.5" x2="1357.3" y2="416.5" stroke="#00d900" stroke-width="5.6"/><line x1="1349.2" y1="404.5" x2="1365.4" y2="404.5" stroke="#00d900" stroke-width="5.699999999999999"/><line x1="1349.2" y1="416.5" x2="1365.4" y2="416.5" stroke="#00d900" stroke-width="5.699999999999999"/><line x1="1364.2" y1="404.5" x2="1364.2" y2="416.5" stroke="#00d900" stroke-width="5.6"/><line x1="1356.1" y1="404.5" x2="1372.3" y2="404.5" stroke="#00d900" stroke-width="5.699999999999999"/><line x1="1356.1" y1="416.5" x2="1372.3" y2="416.5" stroke="#00d900" stroke-width="5.699999999999999"/><line x1="1370.0" y1="404.5" x2="1370.0" y2="416.5" stroke="#00d900" stroke-width="5.6"/><line x1="1361.9" y1="404.5" x2="1378.1" y2="404.5" stroke="#00d900" stroke-width="5.699999999999999"/><line x1="1361.9" y1="416.5" x2="1378.1" y2="416.5" stroke="#00d900" stroke-width="5.699999999999999"/><line x1="1382.3" y1="401.0" x2="1382.3" y2="417.0" stroke="#00d900" stroke-width="5.6"/><line x1="1374.2" y1="401.0" x2="1390.4" y2="401.0" stroke="#00d900" stroke-width="5.699999999999999"/><line x1="1374.2" y1="417.0" x2="1390.4" y2="417.0" stroke="#00d900" stroke-width="5.699999999999999"/><line x1="1395.0" y1="401.0" x2="1395.0" y2="417.0" stroke="#00d900" stroke-width="5.6"/><line x1="1386.9" y1="401.0" x2="1403.1" y2="401.0" stroke="#00d900" stroke-width="5.699999999999999"/><line x1="1386.9" y1="417.0" x2="1403.1" y2="417.0" stroke="#00d900" stroke-width="5.699999999999999"/><line x1="1407.0" y1="388.0" x2="1407.0" y2="412.0" stroke="#00d900" stroke-width="5.6"/><line x1="1398.9" y1="388.0" x2="1415.1" y2="388.0" stroke="#00d900" stroke-width="5.699999999999999"/><line x1="1398.9" y1="412.0" x2="1415.1" y2="412.0" stroke="#00d900" stroke-width="5.699999999999999"/><line x1="1419.8" y1="335.8" x2="1419.8" y2="415.0" stroke="#00d900" stroke-width="5.6"/><line x1="1411.7" y1="335.8" x2="1427.9" y2="335.8" stroke="#00d900" stroke-width="5.699999999999999"/><line x1="1411.7" y1="415.0" x2="1427.9" y2="415.0" stroke="#00d900" stroke-width="5.699999999999999"/><line x1="1444.7" y1="267.9" x2="1444.7" y2="383.9" stroke="#00d900" stroke-width="5.6"/><line x1="1436.6" y1="267.9" x2="1452.8" y2="267.9" stroke="#00d900" stroke-width="5.699999999999999"/><line x1="1436.6" y1="383.9" x2="1452.8" y2="383.9" stroke="#00d900" stroke-width="5.699999999999999"/><line x1="1469.7" y1="206.7" x2="1469.7" y2="364.7" stroke="#00d900" stroke-width="5.6"/><line x1="1461.6" y1="206.7" x2="1477.8" y2="206.7" stroke="#00d900" stroke-width="5.699999999999999"/><line x1="1461.6" y1="364.7" x2="1477.8" y2="364.7" stroke="#00d900" stroke-width="5.699999999999999"/><line x1="1494.8" y1="199.4" x2="1494.8" y2="356.2" stroke="#00d900" stroke-width="5.6"/><line x1="1486.7" y1="199.4" x2="1502.9" y2="199.4" stroke="#00d900" stroke-width="5.699999999999999"/><line x1="1486.7" y1="356.2" x2="1502.9" y2="356.2" stroke="#00d900" stroke-width="5.699999999999999"/><line x1="1519.8" y1="149.5" x2="1519.8" y2="314.9" stroke="#00d900" stroke-width="5.6"/><line x1="1511.7" y1="149.5" x2="1527.9" y2="149.5" stroke="#00d900" stroke-width="5.699999999999999"/><line x1="1511.7" y1="314.9" x2="1527.9" y2="314.9" stroke="#00d900" stroke-width="5.699999999999999"/><line x1="1544.8" y1="128.1" x2="1544.8" y2="272.9" stroke="#00d900" stroke-width="5.6"/><line x1="1536.7" y1="128.1" x2="1552.9" y2="128.1" stroke="#00d900" stroke-width="5.699999999999999"/><line x1="1536.7" y1="272.9" x2="1552.9" y2="272.9" stroke="#00d900" stroke-width="5.699999999999999"/><line x1="1569.8" y1="122.7" x2="1569.8" y2="289.3" stroke="#00d900" stroke-width="5.6"/><line x1="1561.7" y1="122.7" x2="1577.9" y2="122.7" stroke="#00d900" stroke-width="5.699999999999999"/><line x1="1561.7" y1="289.3" x2="1577.9" y2="289.3" stroke="#00d900" stroke-width="5.699999999999999"/><line x1="1594.9" y1="89.2" x2="1594.9" y2="253.6" stroke="#00d900" stroke-width="5.6"/><line x1="1586.8" y1="89.2" x2="1603.0" y2="89.2" stroke="#00d900" stroke-width="5.699999999999999"/><line x1="1586.8" y1="253.6" x2="1603.0" y2="253.6" stroke="#00d900" stroke-width="5.699999999999999"/><line x1="1695.0" y1="104.8" x2="1695.0" y2="244.8" stroke="#00d900" stroke-width="5.6"/><line x1="1686.9" y1="104.8" x2="1703.1" y2="104.8" stroke="#00d900" stroke-width="5.699999999999999"/><line x1="1686.9" y1="244.8" x2="1703.1" y2="244.8" stroke="#00d900" stroke-width="5.699999999999999"/><rect x="1339.3" y="400.5" width="20.0" height="20.0" fill="#00d900"/><rect x="1347.3" y="400.5" width="20.0" height="20.0" fill="#00d900"/><rect x="1354.2" y="400.5" width="20.0" height="20.0" fill="#00d900"/><rect x="1360.0" y="400.5" width="20.0" height="20.0" fill="#00d900"/><rect x="1372.3" y="399.0" width="20.0" height="20.0" fill="#00d900"/><rect x="1385.0" y="399.0" width="20.0" height="20.0" fill="#00d900"/><rect x="1397.0" y="390.0" width="20.0" height="20.0" fill="#00d900"/><rect x="1409.8" y="365.4" width="20.0" height="20.0" fill="#00d900"/><rect x="1434.7" y="315.9" width="20.0" height="20.0" fill="#00d900"/><rect x="1459.7" y="275.7" width="20.0" height="20.0" fill="#00d900"/><rect x="1484.8" y="267.8" width="20.0" height="20.0" fill="#00d900"/><rect x="1509.8" y="222.2" width="20.0" height="20.0" fill="#00d900"/><rect x="1534.8" y="190.5" width="20.0" height="20.0" fill="#00d900"/><rect x="1559.8" y="196.0" width="20.0" height="20.0" fill="#00d900"/><rect x="1584.9" y="161.4" width="20.0" height="20.0" fill="#00d900"/><rect x="1685.0" y="164.8" width="20.0" height="20.0" fill="#00d900"/>
<line x1="1352.2" y1="369.5" x2="1352.2" y2="400.5" stroke="#000000" stroke-width="5.6"/><line x1="1344.1" y1="369.5" x2="1360.3" y2="369.5" stroke="#000000" stroke-width="5.699999999999999"/><line x1="1344.1" y1="400.5" x2="1360.3" y2="400.5" stroke="#000000" stroke-width="5.699999999999999"/><line x1="1359.8" y1="367.0" x2="1359.8" y2="401.0" stroke="#000000" stroke-width="5.6"/><line x1="1351.7" y1="367.0" x2="1367.9" y2="367.0" stroke="#000000" stroke-width="5.699999999999999"/><line x1="1351.7" y1="401.0" x2="1367.9" y2="401.0" stroke="#000000" stroke-width="5.699999999999999"/><line x1="1367.5" y1="349.5" x2="1367.5" y2="402.5" stroke="#000000" stroke-width="5.6"/><line x1="1359.4" y1="349.5" x2="1375.6" y2="349.5" stroke="#000000" stroke-width="5.699999999999999"/><line x1="1359.4" y1="402.5" x2="1375.6" y2="402.5" stroke="#000000" stroke-width="5.699999999999999"/><line x1="1375.1" y1="339.0" x2="1375.1" y2="403.0" stroke="#000000" stroke-width="5.6"/><line x1="1367.0" y1="339.0" x2="1383.2" y2="339.0" stroke="#000000" stroke-width="5.699999999999999"/><line x1="1367.0" y1="403.0" x2="1383.2" y2="403.0" stroke="#000000" stroke-width="5.699999999999999"/><line x1="1383.0" y1="308.3" x2="1383.0" y2="395.7" stroke="#000000" stroke-width="5.6"/><line x1="1374.9" y1="308.3" x2="1391.1" y2="308.3" stroke="#000000" stroke-width="5.699999999999999"/><line x1="1374.9" y1="395.7" x2="1391.1" y2="395.7" stroke="#000000" stroke-width="5.699999999999999"/><line x1="1402.3" y1="299.6" x2="1402.3" y2="393.0" stroke="#000000" stroke-width="5.6"/><line x1="1394.2" y1="299.6" x2="1410.4" y2="299.6" stroke="#000000" stroke-width="5.699999999999999"/><line x1="1394.2" y1="393.0" x2="1410.4" y2="393.0" stroke="#000000" stroke-width="5.699999999999999"/><line x1="1421.5" y1="290.1" x2="1421.5" y2="379.1" stroke="#000000" stroke-width="5.6"/><line x1="1413.4" y1="290.1" x2="1429.6" y2="290.1" stroke="#000000" stroke-width="5.699999999999999"/><line x1="1413.4" y1="379.1" x2="1429.6" y2="379.1" stroke="#000000" stroke-width="5.699999999999999"/><line x1="1440.7" y1="280.0" x2="1440.7" y2="389.0" stroke="#000000" stroke-width="5.6"/><line x1="1432.6" y1="280.0" x2="1448.8" y2="280.0" stroke="#000000" stroke-width="5.699999999999999"/><line x1="1432.6" y1="389.0" x2="1448.8" y2="389.0" stroke="#000000" stroke-width="5.699999999999999"/><line x1="1459.9" y1="302.3" x2="1459.9" y2="390.3" stroke="#000000" stroke-width="5.6"/><line x1="1451.8" y1="302.3" x2="1468.0" y2="302.3" stroke="#000000" stroke-width="5.699999999999999"/><line x1="1451.8" y1="390.3" x2="1468.0" y2="390.3" stroke="#000000" stroke-width="5.699999999999999"/><line x1="1498.4" y1="302.6" x2="1498.4" y2="380.0" stroke="#000000" stroke-width="5.6"/><line x1="1490.3" y1="302.6" x2="1506.5" y2="302.6" stroke="#000000" stroke-width="5.699999999999999"/><line x1="1490.3" y1="380.0" x2="1506.5" y2="380.0" stroke="#000000" stroke-width="5.699999999999999"/><line x1="1536.8" y1="295.1" x2="1536.8" y2="385.5" stroke="#000000" stroke-width="5.6"/><line x1="1528.7" y1="295.1" x2="1544.9" y2="295.1" stroke="#000000" stroke-width="5.699999999999999"/><line x1="1528.7" y1="385.5" x2="1544.9" y2="385.5" stroke="#000000" stroke-width="5.699999999999999"/><line x1="1575.3" y1="208.3" x2="1575.3" y2="353.3" stroke="#000000" stroke-width="5.6"/><line x1="1567.2" y1="208.3" x2="1583.4" y2="208.3" stroke="#000000" stroke-width="5.699999999999999"/><line x1="1567.2" y1="353.3" x2="1583.4" y2="353.3" stroke="#000000" stroke-width="5.699999999999999"/><line x1="1613.7" y1="223.0" x2="1613.7" y2="367.0" stroke="#000000" stroke-width="5.6"/><line x1="1605.6" y1="223.0" x2="1621.8" y2="223.0" stroke="#000000" stroke-width="5.699999999999999"/><line x1="1605.6" y1="367.0" x2="1621.8" y2="367.0" stroke="#000000" stroke-width="5.699999999999999"/><line x1="1652.2" y1="176.1" x2="1652.2" y2="332.1" stroke="#000000" stroke-width="5.6"/><line x1="1644.1" y1="176.1" x2="1660.3" y2="176.1" stroke="#000000" stroke-width="5.699999999999999"/><line x1="1644.1" y1="332.1" x2="1660.3" y2="332.1" stroke="#000000" stroke-width="5.699999999999999"/><line x1="1690.6" y1="177.9" x2="1690.6" y2="306.9" stroke="#000000" stroke-width="5.6"/><line x1="1682.5" y1="177.9" x2="1698.7" y2="177.9" stroke="#000000" stroke-width="5.699999999999999"/><line x1="1682.5" y1="306.9" x2="1698.7" y2="306.9" stroke="#000000" stroke-width="5.699999999999999"/><rect x="1342.2" y="375.0" width="20.0" height="20.0" fill="#000000"/><rect x="1349.8" y="374.0" width="20.0" height="20.0" fill="#000000"/><rect x="1357.5" y="366.0" width="20.0" height="20.0" fill="#000000"/><rect x="1365.1" y="361.0" width="20.0" height="20.0" fill="#000000"/><rect x="1373.0" y="342.0" width="20.0" height="20.0" fill="#000000"/><rect x="1392.3" y="336.3" width="20.0" height="20.0" fill="#000000"/><rect x="1411.5" y="324.6" width="20.0" height="20.0" fill="#000000"/><rect x="1430.7" y="324.5" width="20.0" height="20.0" fill="#000000"/><rect x="1449.9" y="336.3" width="20.0" height="20.0" fill="#000000"/><rect x="1488.4" y="331.3" width="20.0" height="20.0" fill="#000000"/><rect x="1526.8" y="330.3" width="20.0" height="20.0" fill="#000000"/><rect x="1565.3" y="270.8" width="20.0" height="20.0" fill="#000000"/><rect x="1603.7" y="285.0" width="20.0" height="20.0" fill="#000000"/><rect x="1642.2" y="244.1" width="20.0" height="20.0" fill="#000000"/><rect x="1680.6" y="232.4" width="20.0" height="20.0" fill="#000000"/>
<g font-family="'Liberation Sans', Arial, Helvetica, sans-serif" font-weight="bold" font-size="31.4" fill="#262626"><text x="1344.6" y="465" text-anchor="middle">0</text><text x="1525.9" y="465" text-anchor="middle">5</text><text x="1707.3" y="465" text-anchor="middle">10</text><text x="1332.4" y="425.1" text-anchor="end">0</text><text x="1332.4" y="332.9" text-anchor="end">0.05</text><text x="1332.4" y="240.7" text-anchor="end">0.1</text><text x="1332.4" y="148.5" text-anchor="end">0.15</text><text x="1332.4" y="56.3" text-anchor="end">0.2</text></g>
<text x="1524.9" y="512.2" text-anchor="middle" font-family="'Liberation Sans', Arial, Helvetica, sans-serif" font-weight="bold" font-size="35.2" fill="#262626">Flow Velocity (cm/s)</text>
<g font-family="'Liberation Sans', Arial, Helvetica, sans-serif" font-weight="bold" font-size="35.2" fill="#262626" text-anchor="middle"><text transform="translate(1208.7,232.0) rotate(-90)">Area-Adjusted</text><text transform="translate(1253.1,232.0) rotate(-90)">Velocity Index (AU)</text></g>
<text x="1524.7" y="28.4" text-anchor="middle" font-family="'Liberation Sans', Arial, Helvetica, sans-serif" font-weight="bold" font-size="35" fill="#000">Maximum Scale</text>
<text x="1178.3" y="35.7" font-family="'Liberation Sans', Arial, Helvetica, sans-serif" font-weight="bold" font-size="50" fill="#000">C</text>
<rect x="1362.4" y="61.0" width="350.6" height="82.0" fill="#fff" stroke="#262626" stroke-width="4.3"/><line x1="1410.0" y1="69.3" x2="1410.0" y2="97.5" stroke="#00d900" stroke-width="5.6"/><line x1="1401.9" y1="69.3" x2="1418.1" y2="69.3" stroke="#00d900" stroke-width="5.699999999999999"/><line x1="1401.9" y1="97.5" x2="1418.1" y2="97.5" stroke="#00d900" stroke-width="5.699999999999999"/><rect x="1404.0" y="77.4" width="12.0" height="12.0" fill="#00d900"/><text x="1455.4" y="94.4" font-family="'Liberation Sans', Arial, Helvetica, sans-serif" font-weight="bold" font-size="28.8" fill="#000">506 <tspan font-family="'Liberation Serif', 'Times New Roman', serif" font-style="italic" font-weight="normal" font-size="33">μ</tspan><tspan dx="1">m, Scale: 1.8</tspan></text><line x1="1410.0" y1="107.6" x2="1410.0" y2="135.8" stroke="#000000" stroke-width="5.6"/><line x1="1401.9" y1="107.6" x2="1418.1" y2="107.6" stroke="#000000" stroke-width="5.699999999999999"/><line x1="1401.9" y1="135.8" x2="1418.1" y2="135.8" stroke="#000000" stroke-width="5.699999999999999"/><rect x="1404.0" y="115.7" width="12.0" height="12.0" fill="#000000"/><text x="1455.4" y="134.1" font-family="'Liberation Sans', Arial, Helvetica, sans-serif" font-weight="bold" font-size="28.8" fill="#000">408 <tspan font-family="'Liberation Serif', 'Times New Roman', serif" font-style="italic" font-weight="normal" font-size="33">μ</tspan><tspan dx="1">m, Scale: 1.2</tspan></text>
<g font-family="'Liberation Sans', Arial, Helvetica, sans-serif" font-size="36" fill="#000" text-anchor="middle"><text x="249.1" y="581.3" font-weight="bold" font-size="36.8" letter-spacing="0.3" fill="#000">408 µm:</text><text x="244.25" y="626.2"><tspan dx="-2">ρ</tspan><tspan dx="3.6"> = 0.79</tspan></text><text x="239.55" y="670.3">p < 0.0001</text><text x="457.9" y="581.3" font-weight="bold" font-size="36.8" letter-spacing="0.3" fill="#00d900">506 µm:</text><text x="456.55" y="626.2"><tspan dx="-2">ρ</tspan><tspan dx="3.6"> = 0.39</tspan></text><text x="455.55" y="670.3">p =0.11</text></g>
<g font-family="'Liberation Sans', Arial, Helvetica, sans-serif" font-size="36" fill="#000" text-anchor="middle"><text x="839.6500000000001" y="581.3" font-weight="bold" font-size="36.8" letter-spacing="0.3" fill="#000">408 µm:</text><text x="834.85" y="626.2"><tspan dx="-2">ρ</tspan><tspan dx="3.6"> = 0.89</tspan></text><text x="829.55" y="670.3">p < 0.0001</text><text x="1048.6000000000001" y="581.3" font-weight="bold" font-size="36.8" letter-spacing="0.3" fill="#00d900">506 µm:</text><text x="1046.55" y="626.2"><tspan dx="-2">ρ</tspan><tspan dx="3.6"> = 0.97</tspan></text><text x="1042.05" y="670.3">p < 0.0001</text></g>
<g font-family="'Liberation Sans', Arial, Helvetica, sans-serif" font-size="36" fill="#000" text-anchor="middle"><text x="1430.5" y="581.3" font-weight="bold" font-size="36.8" letter-spacing="0.3" fill="#000">408 µm:</text><text x="1424.9499999999998" y="626.2"><tspan dx="-2">ρ</tspan><tspan dx="3.6"> = 0.95</tspan></text><text x="1420.2" y="670.3">p < 0.0001</text><text x="1639.1000000000001" y="581.3" font-weight="bold" font-size="36.8" letter-spacing="0.3" fill="#00d900">506 µm:</text><text x="1637.1499999999999" y="626.2"><tspan dx="-2">ρ</tspan><tspan dx="3.6"> = 0.95</tspan></text><text x="1632.25" y="670.3">p < 0.0001</text></g>
</svg></body></html>
